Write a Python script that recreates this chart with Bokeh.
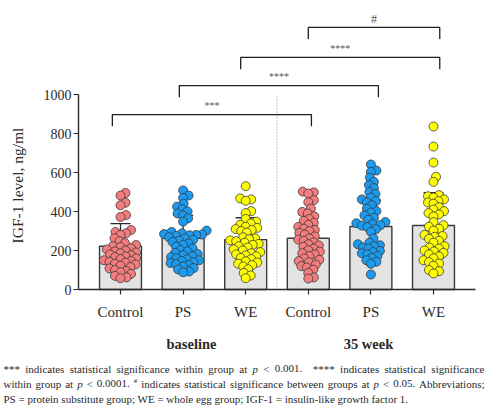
import numpy as np
from bokeh.plotting import figure
from bokeh.models import Range1d, FixedTicker, Label
from bokeh.embed import file_html
from bokeh.resources import INLINE

# ---------------- data ----------------
group_labels = ["Control", "PS", "WE", "Control", "PS", "WE"]
phase_labels = ["baseline", "35 week"]
group_colors = ["#F47C7C", "#1A9BF0", "#FFFF00", "#F47C7C", "#1A9BF0", "#FFFF00"]

control_base = [495, 482, 445, 432, 382, 372, 305, 295, 288, 280, 262, 248, 238, 228, 222,
                218, 212, 205, 200, 195, 190, 186, 180, 176, 170, 166, 160, 156, 150, 146,
                142, 138, 132, 128, 122, 115, 108, 100, 95, 88, 80, 70, 62, 58]
ps_base = [508, 482, 470, 440, 425, 412, 400, 390, 380, 365, 348, 302, 295, 288, 284, 282,
           280, 278, 275, 268, 262, 255, 250, 244, 236, 228, 220, 210, 202, 196, 188, 182,
           176, 171, 166, 160, 155, 150, 146, 140, 136, 130, 126, 118, 110, 103, 92, 88]
we_base = [530, 467, 462, 455, 402, 392, 362, 348, 338, 332, 322, 316, 310, 305, 300, 292,
           268, 262, 258, 252, 248, 240, 234, 229, 222, 215, 206, 200, 192, 186, 180, 175,
           170, 162, 156, 145, 138, 132, 125, 118, 104, 85, 72, 58]
control_35 = [502, 498, 492, 458, 448, 415, 398, 390, 375, 362, 352, 342, 332, 321, 312, 306,
              300, 290, 282, 272, 262, 256, 250, 242, 232, 226, 219, 210, 202, 194, 186, 180,
              172, 159, 152, 146, 140, 128, 120, 113, 102, 85, 62, 56]
ps_35 = [641, 610, 603, 574, 552, 535, 520, 500, 490, 472, 462, 453, 446, 432, 415, 402, 394,
         380, 367, 358, 346, 340, 336, 330, 328, 320, 310, 296, 262, 240, 232, 227, 222, 216,
         210, 198, 192, 186, 180, 172, 162, 150, 142, 132, 77]
we_35 = [836, 733, 651, 578, 552, 484, 478, 472, 462, 453, 446, 440, 422, 410, 402, 392, 385,
         375, 345, 330, 322, 312, 302, 280, 274, 270, 260, 250, 240, 222, 215, 210, 200, 195,
         188, 180, 170, 160, 150, 140, 133, 122, 100, 94, 82]
all_points = [control_base, ps_base, we_base, control_35, ps_35, we_35]

means = [222, 262, 256, 263, 323, 328]
sds = [116, 118, 112, 121, 135, 169]
y_ticks = [0, 200, 400, 600, 800, 1000]

# significance brackets: (x start, x end, height, label)
brackets = [(0.87, 4.05, 897, "***"), (1.94, 5.12, 1046, "****"),
            (2.92, 6.10, 1190, "****"), (4.0, 6.10, 1344, "#")]

y_title = "IGF-1 level, ng/ml"

# caption lines: list of (word, style); style n=normal, i=italic, s=superscript
caption_lines = [
    [("***", "n"), ("indicates", "n"), ("statistical", "n"), ("significance", "n"),
     ("within", "n"), ("group", "n"), ("at", "n"), ("p", "i"), ("<", "n"), ("0.001.", "n"),
     ("", "n"), ("****", "n"), ("indicates", "n"), ("statistical", "n"), ("significance", "n")],
    [("within", "n"), ("group", "n"), ("at", "n"), ("p", "i"), ("<", "n"), ("0.0001.", "n"),
     ("#", "s"), ("indicates", "n"), ("statistical", "n"), ("significance", "n"),
     ("between", "n"), ("groups", "n"), ("at", "n"), ("p", "i"), ("<", "n"), ("0.05.", "n"),
     ("Abbreviations;", "n")],
]
caption_last = "PS = protein substitute group; WE = whole egg group; IGF-1 = insulin-like growth factor 1."

# ---------------- layout helpers ----------------
W, H = 489, 419
PXX = 62.6    # px per x unit
PXY = 0.195   # px per y unit
FONT = "Liberation Serif"
TXT = "#2a2a2a"
CAP_FS = 11.0
SUP_FS = 7.0

# approximate Times-metric advance widths (per 1000 em) for justification
_TW = {" ": 250, "#": 500, "*": 500, ",": 250, "-": 333, ".": 250, "/": 278, ";": 278,
       "<": 564, "=": 564, "A": 722, "E": 611, "F": 556, "G": 722, "I": 333, "P": 556,
       "S": 556, "W": 944, "a": 444, "b": 500, "c": 444, "d": 500, "e": 444, "f": 333,
       "g": 500, "h": 500, "i": 278, "k": 500, "l": 278, "m": 778, "n": 500, "o": 500,
       "p": 500, "r": 333, "s": 389, "t": 278, "u": 500, "v": 500, "w": 722, "y": 500}


def tw(s, fs):
    return sum(_TW.get(c, 500) for c in s) * fs / 1000.0


def X(px):  # page x -> data x
    return 1 + (px - 120) / PXX


def Y(py):  # page y -> data y
    return (289 - py) / PXY


def swarm(vals, center, min_d=5.6, step=0.5):
    placed = []
    out = np.zeros(len(vals))
    for i in np.argsort(vals):
        py = vals[i] * PXY
        k = 0
        found = None
        while found is None:
            cands = [0.0] if k == 0 else [k * step, -k * step]
            for off in cands:
                if all((off - qx) ** 2 + (py - qy) ** 2 >= min_d ** 2 for qx, qy in placed):
                    found = off
                    break
            k += 1
        placed.append((found, py))
        out[i] = center + found / PXX
    return out


positions = list(range(1, len(group_labels) + 1))

p = figure(width=W, height=H, x_range=Range1d(X(0), X(W)), y_range=Range1d(Y(H), Y(0)),
           min_border_left=0, min_border_right=0, min_border_top=0, min_border_bottom=0,
           output_backend="svg", toolbar_location=None, title=None)
p.outline_line_color = None
p.xgrid.visible = False
p.ygrid.visible = False
p.background_fill_color = "white"
p.border_fill_color = "white"

# bars
p.vbar(x=positions, top=means, width=0.67, bottom=0, fill_color="#E3E3E3",
       line_color="#3a3a3a", line_width=1.4)

# dotted separator
p.segment(x0=[3.5], y0=[0], x1=[3.5], y1=[1000], line_color="#9a9a9a",
          line_width=1.2, line_dash="1 2")

# error bars (mean +/- SD), behind the points
lo = [m - s for m, s in zip(means, sds)]
hi = [m + s for m, s in zip(means, sds)]
p.segment(x0=positions, y0=lo, x1=positions, y1=hi, line_color="#2a2a2a", line_width=1.3)
cap = 0.16
p.segment(x0=[x - cap for x in positions], y0=hi, x1=[x + cap for x in positions], y1=hi,
          line_color="#2a2a2a", line_width=1.3)
p.segment(x0=[x - cap for x in positions], y0=lo, x1=[x + cap for x in positions], y1=lo,
          line_color="#2a2a2a", line_width=1.3)

# points
for pos, vals, col in zip(positions, all_points, group_colors):
    xs = swarm(vals, pos)
    p.scatter(x=xs, y=vals, size=9, fill_color=col, line_color="#3a3a3a", line_width=0.8)

# brackets
leg = 60
bx, by = [], []
for x0, x1, h, _ in brackets:
    bx.append([x0, x0, x1, x1])
    by.append([h - leg, h, h, h - leg])
p.multi_line(xs=bx, ys=by, line_color="#1e1e1e", line_width=1.3)
for x0, x1, h, lab in brackets:
    size = "12px" if lab == "#" else "10px"
    p.add_layout(Label(x=(x0 + x1) / 2, y=h + 45, text=lab, text_font=FONT,
                       text_font_size=size, text_color="#555555", text_align="center",
                       text_baseline="middle"))

# axes (placed at fixed data locations)
p.xaxis.fixed_location = 0
p.xaxis.bounds = (X(78), X(475))
p.xaxis.ticker = FixedTicker(ticks=positions)
p.xaxis.major_label_overrides = {pos: lab for pos, lab in zip(positions, group_labels)}
p.xaxis.major_label_text_font = FONT
p.xaxis.major_label_text_font_size = "15px"
p.xaxis.major_label_text_color = TXT
p.xaxis.major_tick_in = 0
p.xaxis.major_tick_out = 5
p.xaxis.minor_tick_line_color = None
p.xaxis.major_label_standoff = 9
p.xaxis.axis_line_color = "#2a2a2a"
p.xaxis.axis_line_width = 1.4
p.xaxis.major_tick_line_color = "#2a2a2a"
p.xaxis.major_tick_line_width = 1.2

p.yaxis.fixed_location = X(78)
p.yaxis.ticker = FixedTicker(ticks=y_ticks)
p.yaxis.bounds = (0, 1000)
p.yaxis.major_label_text_font = FONT
p.yaxis.major_label_text_font_size = "14px"
p.yaxis.major_label_text_color = TXT
p.yaxis.major_tick_in = 0
p.yaxis.major_tick_out = 5
p.yaxis.minor_tick_line_color = None
p.yaxis.major_label_standoff = 2
p.yaxis.axis_line_color = "#2a2a2a"
p.yaxis.axis_line_width = 1.4
p.yaxis.major_tick_line_color = "#2a2a2a"
p.yaxis.major_tick_line_width = 1.2

# y title
p.add_layout(Label(x=X(17), y=Y(185), text=y_title, angle=np.pi / 2, text_font=FONT,
                   text_font_size="15.5px", text_color=TXT, text_align="center",
                   text_baseline="middle"))

# phase labels
for lab, px in zip(phase_labels, [191, 368]):
    p.add_layout(Label(x=X(px), y=Y(343), text=lab, text_font=FONT, text_font_size="14.5px",
                       text_font_style="bold", text_color=TXT, text_align="center",
                       text_baseline="middle"))

# caption: two justified lines + last line
left, right = 3, 484
for words, ly in zip(caption_lines, [368, 383]):
    widths = [tw(w, SUP_FS if st == "s" else CAP_FS) for w, st in words]
    gap = (right - left - sum(widths)) / (len(words) - 1)
    cx = left
    for (w, st), wd in zip(words, widths):
        if w:
            p.add_layout(Label(x=X(cx), y=Y(ly - (3 if st == "s" else 0)), text=w,
                               text_font=FONT,
                               text_font_size=f"{SUP_FS if st == 's' else CAP_FS}px",
                               text_font_style="italic" if st == "i" else "normal",
                               text_color=TXT, text_align="left", text_baseline="middle"))
        cx += wd + gap
p.add_layout(Label(x=X(left), y=Y(398), text=caption_last, text_font=FONT,
                   text_font_size=f"{CAP_FS}px", text_color=TXT, text_align="left",
                   text_baseline="middle"))

open("out.html", "w").write(file_html(p, INLINE))
